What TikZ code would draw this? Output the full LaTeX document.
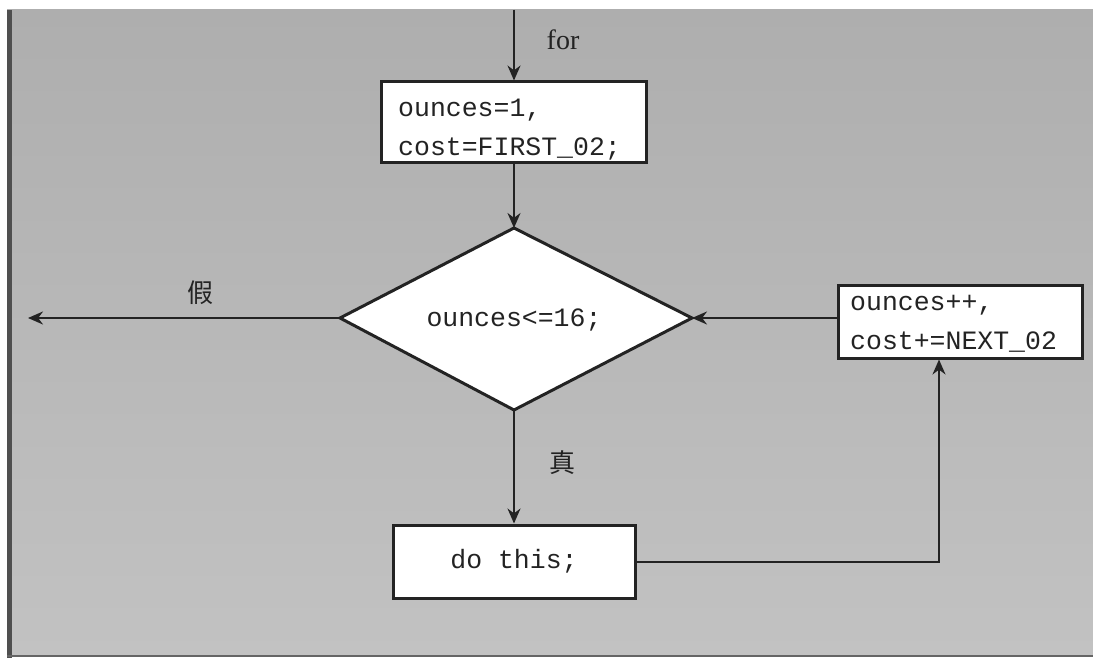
\documentclass[tikz,border=0pt]{standalone}
\usepackage{fontspec}
\setmainfont{Liberation Serif}
\setmonofont{Liberation Mono}
\newfontfamily\cjk{Noto Sans CJK SC}
\usetikzlibrary{arrows.meta}
\definecolor{ink}{RGB}{35,35,35}
\definecolor{bgA}{RGB}{174,174,174}
\definecolor{bgD}{RGB}{194,194,194}
\tikzset{
  conn/.style={draw=ink, line width=2pt, -{Stealth[length=15pt,width=13pt]}},
  boxnode/.style={draw=ink, line width=3pt, fill=white, inner sep=0pt},
  code/.style={text=ink, inner sep=0pt, align=left, font=\fontsize{26.5}{39}\selectfont\ttfamily},
  lbl/.style={text=ink, inner sep=0pt},
}
\begin{document}
\begin{tikzpicture}[x=1pt,y=-1pt]
\useasboundingbox (0,0) rectangle (1093,658);
\fill[white] (0,0) rectangle (1093,658);
\shade[top color=bgA, bottom color=bgD] (7,10) rectangle (1093,656);
\fill[ink!80] (7,10) rectangle (12,658);
\fill[ink!70] (7,655) rectangle (1093,657);

% boxes
\node[boxnode, minimum width=265pt, minimum height=81pt] (init) at (514,122.5) {};
\node[code, anchor=west] (initText) at (398,130) {ounces=1,\\cost=FIRST\_02;};
\node[boxnode, minimum width=244pt, minimum height=73pt] (upd) at (960,321.5) {};
\node[code, anchor=west] (updText) at (850,324) {ounces++,\\cost+=NEXT\_02};
\node[boxnode, minimum width=242pt, minimum height=73pt] (body) at (514,561.5) {};
\node[code] (bodyText) at (514,561) {do this;};

% decision
\coordinate (dt) at (514,228);
\coordinate (db) at (514,410);
\coordinate (dl) at (340,318);
\coordinate (dr) at (692,318);
\fill[white] (dt) -- (dr) -- (db) -- (dl) -- cycle;
\draw[ink, line width=3pt, line join=miter] (dt) -- (dr) -- (db) -- (dl) -- cycle;
\node[lbl, font=\fontsize{26.5}{30}\selectfont\ttfamily] (cond) at (514,320) {ounces<=16;};

\coordinate (start) at (514,10);
\coordinate (exit) at (28,318);
\coordinate (turn) at (939,561.5);

% connectors
\draw[conn] (start) -- (init.north);
\draw[conn] (init.south) -- (dt);
\draw[conn] (dl) -- (exit);
\draw[conn] (upd.west |- dr) -- (dr);
\draw[conn] (db) -- (body.north);
\draw[conn] (body.east) -- (turn) -- (turn |- upd.south);

% labels
\node[lbl, font=\fontsize{28}{30}\selectfont] (forlbl) at (563,40) {for};
\node[lbl, font=\fontsize{26}{28}\selectfont\cjk] (falselbl) at (200,293) {假};
\node[lbl, font=\fontsize{26}{28}\selectfont\cjk] (truelbl) at (562,463) {真};
\end{tikzpicture}
\end{document}
